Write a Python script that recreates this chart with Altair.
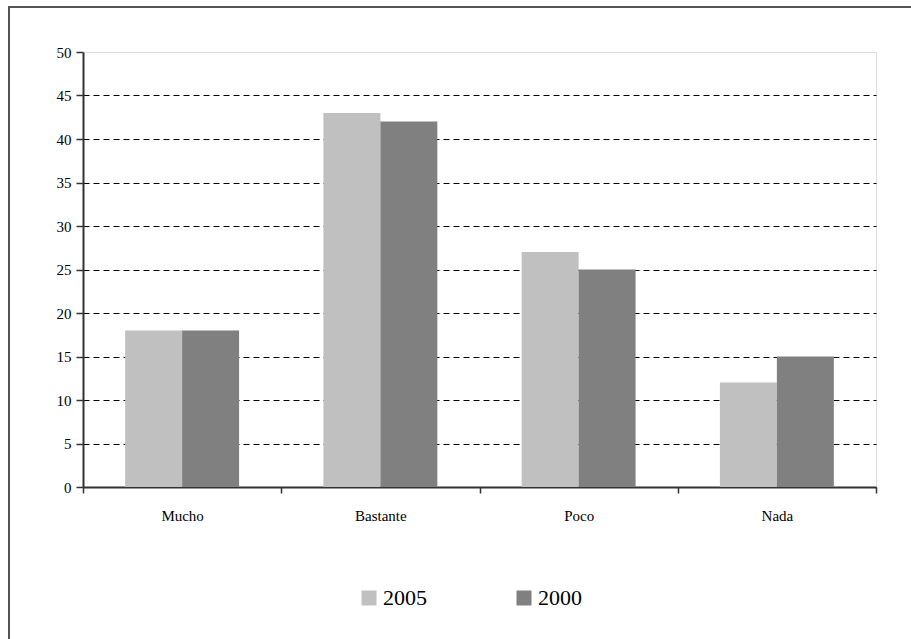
import altair as alt
import pandas as pd

categories = ["Mucho", "Bastante", "Poco", "Nada"]
series = ["2005", "2000"]
values_2005 = [18, 43, 27, 12]
values_2000 = [18, 42, 25, 15]
y_ticks = [0, 5, 10, 15, 20, 25, 30, 35, 40, 45, 50]

rows = []
for c, a, b in zip(categories, values_2005, values_2000):
    rows.append({"cat": c, "year": "2005", "val": a})
    rows.append({"cat": c, "year": "2000", "val": b})
df = pd.DataFrame(rows)

FONT = "'Times New Roman', 'Liberation Serif', serif"

bars = alt.Chart(df).mark_bar(stroke=None).encode(
    x=alt.X("cat:N", sort=categories,
            scale=alt.Scale(paddingInner=0, paddingOuter=0),
            axis=alt.Axis(title=None, labelAngle=0, tickBand="extent",
                          labelFont=FONT, labelFontSize=15, labelColor="black",
                          labelPadding=15, tickSize=6, tickColor="#333",
                          domainColor="#333", domainWidth=2, tickWidth=1.5,
                          grid=False)),
    xOffset=alt.XOffset("year:N", sort=series,
                        scale=alt.Scale(paddingInner=0, paddingOuter=0.74)),
    y=alt.Y("val:Q", scale=alt.Scale(domain=[0, 50], nice=False),
            axis=alt.Axis(title=None, values=y_ticks, labelFont=FONT,
                          labelFontSize=15, labelColor="black", labelPadding=5,
                          tickSize=7, tickColor="#333", tickWidth=1.5,
                          domainColor="#333", domainWidth=2,
                          grid=True, gridColor="black", gridWidth=1,
                          gridDash={"condition": {"test": "datum.value === 50", "value": []},
                                    "value": [6, 4]},
                          gridOpacity={"condition": {"test": "datum.value === 50", "value": 0},
                                       "value": 1})),
    color=alt.Color("year:N", sort=series,
                    scale=alt.Scale(domain=series, range=["#c0c0c0", "#808080"]),
                    legend=alt.Legend(title=None, orient="none", direction="horizontal",
                                      legendX=275, legendY=535,
                                      symbolType="square", symbolSize=225,
                                      symbolStrokeWidth=0, symbolOpacity=1,
                                      labelFont=FONT, labelFontSize=22,
                                      labelColor="black", labelOffset=3,
                                      columnPadding=86)),
)

frame = alt.Chart(pd.DataFrame({"a": [0]})).mark_rect(
    fill=None, stroke="#555", strokeWidth=2
).encode(x=alt.value(-74), x2=alt.value(840), y=alt.value(-45), y2=alt.value(600))

chart = alt.layer(bars, frame).properties(
    width=793, height=435,
    padding={"left": 83, "top": 52, "right": 35, "bottom": 152},
    autosize=alt.AutoSizeParams(type="none"),
).configure_view(stroke="#999", strokeWidth=1.5).configure(background="white")

chart.save("out.html", embed_options={"renderer": "svg", "actions": False})
